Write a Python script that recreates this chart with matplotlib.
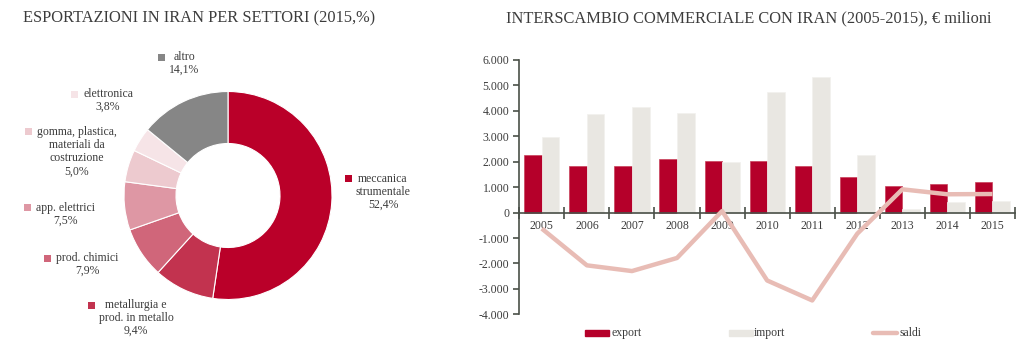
import numpy as np
import matplotlib
matplotlib.use('Agg')
import matplotlib.pyplot as plt
from matplotlib.ticker import FuncFormatter, FixedLocator
from matplotlib.patches import Rectangle
from matplotlib.lines import Line2D

plt.rcParams['font.family'] = ['Liberation Serif', 'DejaVu Serif']
plt.rcParams['axes.unicode_minus'] = False

#%% Data
# donut - exports by sector (2015, %)
sectors  = ['meccanica\nstrumentale', 'metallurgia e\nprod. in metallo', 'prod. chimici',
            'app. elettrici', 'gomma, plastica,\nmateriali da\ncostruzione', 'elettronica', 'altro']
shares   = [52.4, 9.4, 7.9, 7.5, 5.0, 3.8, 14.1]
share_lb = ['52,4%', '9,4%', '7,9%', '7,5%', '5,0%', '3,8%', '14,1%']
sec_cols = ['#BA0029', '#C2334F', '#D0667A', '#DE97A4', '#EDCACF', '#F6E4E7', '#868686']

# bars - trade with Iran (mln euro)
years   = ['2005', '2006', '2007', '2008', '2009', '2010', '2011', '2012', '2013', '2014', '2015']
export_ = [2245, 1825, 1850, 2125, 2010, 2045, 1850, 1400, 1045, 1140, 1205]
import_ = [2955, 3880, 4145, 3910, 1970, 4735, 5325, 2245, 130, 435, 470]
saldi   = [-630, -2075, -2300, -1785, 60, -2670, -3455, -830, 915, 720, 730]

TXT = '#3c3c3c'
AX = '#4a5048'
W, H = 1026, 357

fig = plt.figure(figsize=(W / 100, H / 100), dpi=100)

#%% Donut (axes in pixel units)
ax1 = fig.add_axes([0, 0, 420 / W, 1])
ax1.pie(shares, colors=sec_cols, startangle=90, counterclock=False,
        center=(228, H - 195.5), radius=104, frame=True,
        wedgeprops=dict(width=52, edgecolor='white', linewidth=0.8))
ax1.set_xlim(0, 420)
ax1.set_ylim(0, H)
ax1.set_aspect('equal')
ax1.axis('off')

# label positions (px): square x, text center x, first line y
lab_pos = [(348, 383, 179), (91, 136, 305), (47, 87, 258), (27, 65, 208),
           (28, 77, 132), (74, 108, 94), (161, 184, 57)]
for i in range(len(sectors)):
    sx, tx, ty = lab_pos[i]
    ax1.add_patch(Rectangle((sx - 3.5, H - ty - 3.5), 7, 7, color=sec_cols[i], lw=0))
    txt = sectors[i] + '\n' + share_lb[i]
    ax1.text(tx, H - ty + 6, txt, ha='center', va='top', fontsize=8.5,
             color=TXT, linespacing=1.12)

fig.text(23 / W, 1 - 18 / H, 'ESPORTAZIONI IN IRAN PER SETTORI (2015,%)',
         ha='left', va='center', fontsize=11.8, color=TXT)

#%% Bars
ax2 = fig.add_axes([519.3 / W, 42.7 / H, (1015 - 519.3) / W, (314.3 - 60) / H])
x = np.arange(len(years))
bw = 0.39
ax2.bar(x - bw / 2, export_, bw, color='#B5002A', edgecolor='#C8405A', linewidth=0.5, zorder=2)
ax2.bar(x + bw / 2, import_, bw, color='#E9E7E2', edgecolor='#F2F1EE', linewidth=0.5, zorder=2)
ax2.plot(x, saldi, color='#E8BCB5', lw=3.2, solid_capstyle='butt', zorder=3)

ax2.set_xlim(-0.5, len(years) - 0.5)
ax2.set_ylim(-4000, 6000)
ax2.set_yticks(np.arange(-4000, 6001, 1000))
ax2.yaxis.set_major_formatter(FuncFormatter(lambda v, p: f'{int(v):,}'.replace(',', '.')))
for s in ['top', 'right']:
    ax2.spines[s].set_visible(False)
ax2.spines['bottom'].set_position(('data', 0))
for s in ['left', 'bottom']:
    ax2.spines[s].set_color(AX)
    ax2.spines[s].set_linewidth(1.2)
ax2.tick_params(axis='y', direction='out', length=4, width=1.2, color=AX,
                labelsize=8.5, labelcolor=TXT, pad=3)
ax2.xaxis.set_major_locator(FixedLocator(np.arange(-0.5, len(years), 1.0)))
ax2.xaxis.set_major_formatter(FuncFormatter(lambda v, p: ''))
ax2.set_xticks(x, years, minor=True)
ax2.tick_params(axis='x', which='major', direction='inout', length=8, width=1.2, color=AX)
ax2.tick_params(axis='x', which='minor', length=0, labelsize=8.5, labelcolor=TXT, pad=5)
ax2.patch.set_alpha(0)

fig.text(506 / W, 1 - 18 / H, 'INTERSCAMBIO COMMERCIALE CON IRAN (2005-2015), € milioni',
         ha='left', va='center', fontsize=11.8, color=TXT)

#%% Legend (manual, px positions)
ly = H - 333
fig.patches.append(Rectangle((585 / W, (ly - 3) / H), 24 / W, 6 / H, color='#B5002A',
                             transform=fig.transFigure, figure=fig))
fig.text(611 / W, ly / H, 'export', va='center', ha='left', fontsize=8.5, color=TXT)
fig.patches.append(Rectangle((729 / W, (ly - 3) / H), 24 / W, 6 / H, color='#E9E7E2',
                             transform=fig.transFigure, figure=fig))
fig.text(754 / W, ly / H, 'import', va='center', ha='left', fontsize=8.5, color=TXT)
fig.lines.append(Line2D([873 / W, 897 / W], [ly / H, ly / H], color='#E8BCB5', lw=3.2,
                        solid_capstyle='round', transform=fig.transFigure, figure=fig))
fig.text(899 / W, ly / H, 'saldi', va='center', ha='left', fontsize=8.5, color=TXT)

fig.savefig('out.png', dpi=100)
